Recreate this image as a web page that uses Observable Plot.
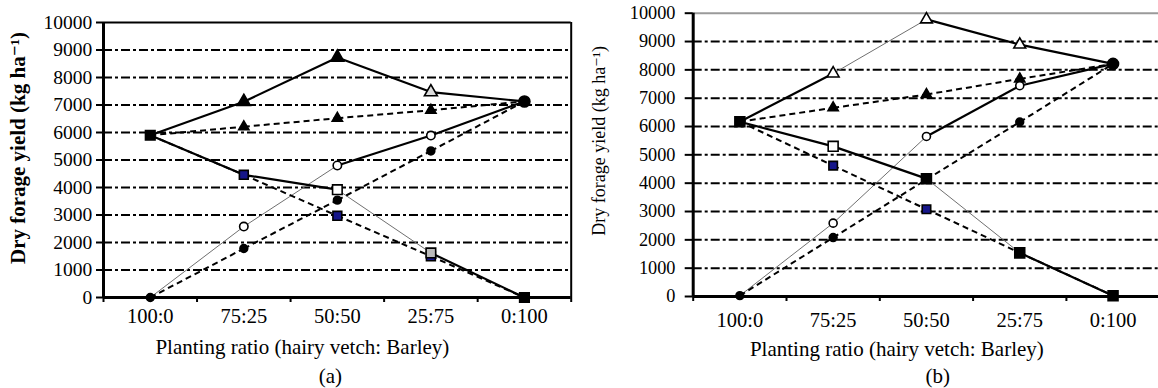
<!DOCTYPE html>
<html><head><meta charset="utf-8">
<script src="https://cdn.jsdelivr.net/npm/d3@7"></script>
<script src="https://cdn.jsdelivr.net/npm/@observablehq/plot@0.6"></script>
<style>
html,body{margin:0;padding:0;background:#fff;}
#wrap{display:flex;width:1158px;height:388px;overflow:hidden;}
#wrap svg{display:block;flex:none;}
#wrap svg, #wrap svg text{font-family:"Liberation Serif","Times New Roman","DejaVu Serif",serif !important;}
</style></head><body><div id="wrap"></div>
<script>
// ---------- data ----------
const ratios = ["100:0", "75:25", "50:50", "25:75", "0:100"];
const yTicks = [0, 1000, 2000, 3000, 4000, 5000, 6000, 7000, 8000, 9000, 10000];
const xTitle = "Planting ratio (hairy vetch: Barley)";
const yTitle = "Dry forage yield (kg ha\u207B\u00B9)";
const captions = ["(a)", "(b)"];

// Panel (a)
const totalA     = [5900, 7120, 8730, 7470, 7130];
const totalExpA  = [5900, 6210, 6520, 6810, 7130];
const vetchA     = [5900, 4460, 3920, 1620, 0];
const vetchExpA  = [5900, 4460, 2970, 1500, 0];
const barleyA    = [0, 2580, 4800, 5890, 7130];
const barleyExpA = [0, 1780, 3540, 5330, 7130];

// Panel (b)
const totalB     = [6170, 7870, 9780, 8890, 8210];
const totalExpB  = [6170, 6660, 7130, 7680, 8210];
const vetchB     = [6170, 5300, 4160, 1540, 30];
const vetchExpB  = [6170, 4620, 3080, 1540, 30];
const barleyB    = [30, 2590, 5650, 7440, 8210];
const barleyExpB = [30, 2080, 4130, 6160, 8210];

// ---------- styles ----------
const NAVY = "#16168a";
const serif = "'Liberation Serif', 'Times New Roman', 'DejaVu Serif', serif";

const seriesA = [
  {values: totalExpA,  segs: ["dash","dash","dash","dash"],  symbol: "triangle", r: 3.8, fill: [null,"#000","#000","#000",null]},
  {values: barleyExpA, segs: ["dash","dash","dash","dash"],  symbol: "circle",   r: 3.9, fill: ["#000","#000","#000","#000","#000"]},
  {values: vetchExpA,  segs: ["dash","dash","dash","dash"],  symbol: "square",   r: 5.0, fill: [null,NAVY,NAVY,NAVY,null]},
  {values: barleyA,    segs: ["thin","thin","thick","thick"], symbol: "circle",  r: 4.2, fill: [null,"#fff","#fff","#fff",null]},
  {values: vetchA,     segs: ["thick","thick","thin","thick"], symbol: "square", r: 5.4, fill: ["#000",null,"#fff","#bbb","#000"]},
  {values: totalA,     segs: ["thick","thick","thick","thick"], symbol: "triangle", r: 4.8, fill: [null,"#000","#000","#ddd",null]},
  {values: [null,null,null,null,barleyA[4]], segs: [null,null,null,null], symbol: "circle", r: 5.5, fill: [null,null,null,null,"#000"]}
];
const seriesB = [
  {values: totalExpB,  segs: ["dash","dash","dash","dash"],  symbol: "triangle", r: 3.8, fill: [null,"#000","#000","#000",null]},
  {values: barleyExpB, segs: ["dash","dash","dash","dash"],  symbol: "circle",   r: 3.9, fill: ["#000","#000","#000","#000","#000"]},
  {values: vetchExpB,  segs: ["dash","dash","dash","dash"],  symbol: "square",   r: 4.8, fill: [null,NAVY,NAVY,NAVY,null]},
  {values: barleyB,    segs: ["thin","thin","thick","thick"], symbol: "circle",  r: 4.0, fill: [null,"#fff","#fff","#fff",null]},
  {values: vetchB,     segs: ["thick","thick","thin","thick"], symbol: "square", r: 5.6, fill: ["#000","#fff","#000","#000","#000"]},
  {values: totalB,     segs: ["thick","thin","thick","thick"], symbol: "triangle", r: 4.4, fill: [null,"#fff","#fff","#fff",null]},
  {values: [null,null,null,null,barleyB[4]], segs: [null,null,null,null], symbol: "circle", r: 5.5, fill: [null,null,null,null,"#000"]}
];

const lineKinds = {
  thin:  {stroke: "#707070", strokeWidth: 1},
  dash:  {stroke: "#000", strokeWidth: 2, strokeDasharray: "6,4"},
  thick: {stroke: "#000", strokeWidth: 2.2}
};

function segmentsOf(series) {
  const out = [];
  for (const s of series)
    for (let i = 0; i < s.values.length - 1; i++)
      if (s.segs[i] && s.values[i] != null && s.values[i + 1] != null)
        out.push({x1: i, y1: s.values[i], x2: i + 1, y2: s.values[i + 1], kind: s.segs[i]});
  return out;
}
function dotMarks(series) {
  return series.map(s => {
    const pts = s.values.map((v, i) => ({x: i, y: v, fill: s.fill[i]})).filter(d => d.fill && d.y != null);
    return Plot.dot(pts, {x: "x", y: "y", symbol: s.symbol, r: s.r, fill: "fill", stroke: "#000", strokeWidth: 1.6});
  });
}

function panel(cfg) {
  const segs = segmentsOf(cfg.series);
  const grid = yTicks.filter(t => t > 0 && t < 10000);
  const bounds = [-0.5, 0.5, 1.5, 2.5, 3.5, 4.5];
  const xIdx = [0, 1, 2, 3, 4];
  return Plot.plot({
    width: cfg.width, height: 388,
    marginLeft: cfg.ml, marginRight: cfg.mr, marginTop: cfg.mt, marginBottom: cfg.mb,
    x: {domain: [-0.5, 4.5], range: cfg.xRange, axis: null},
    y: {domain: [0, 10000], axis: null},
    color: {type: "identity"},
    style: {fontFamily: serif, fontSize: "19px", color: "#000", background: "#fff", overflow: "visible"},
    marks: [
      Plot.ruleY(grid, {stroke: "#000", strokeWidth: 2, strokeDasharray: "9,3,3,3"}),
      Plot.ruleY([10000], {stroke: cfg.topColor, strokeWidth: 2}),
      cfg.rightBorder ? Plot.ruleX([4.5], {stroke: "#000", strokeWidth: 2}) : null,
      ...["thin", "dash", "thick"].map(k =>
        Plot.link(segs.filter(d => d.kind === k), {x1: "x1", y1: "y1", x2: "x2", y2: "y2", ...lineKinds[k]})),
      ...dotMarks(cfg.series),
      Plot.axisY({ticks: yTicks, tickFormat: d => String(d), tickSize: cfg.yTickSize, tickPadding: cfg.yTickPad,
                  fontSize: cfg.yFont, strokeWidth: 2, label: null}),
      Plot.ruleX([-0.5], {stroke: "#000", strokeWidth: 3}),
      Plot.ruleY([0], {stroke: "#000", strokeWidth: 3}),
      Plot.axisX({ticks: bounds, tickFormat: () => "", tickSize: 5, strokeWidth: 2, label: null}),
      Plot.axisX({ticks: xIdx, tickFormat: i => ratios[i], tickSize: 0, tickPadding: cfg.xTickPad,
                  fontSize: 20.5, label: null}),
      Plot.text([xTitle], {frameAnchor: "bottom", dx: cfg.xtDx, dy: cfg.xtDy, fontSize: 21, lineAnchor: "bottom"}),
      Plot.text([cfg.caption], {frameAnchor: "bottom", dx: cfg.capDx, dy: cfg.capDy, fontSize: 21, lineAnchor: "bottom"}),
      Plot.text([yTitle], {frameAnchor: "left", dx: cfg.ytDx, dy: cfg.ytDy, rotate: -90, fontSize: cfg.ytFont,
                           fontWeight: cfg.ytWeight, textAnchor: "middle", lineAnchor: "middle"})
    ]
  });
}

const wrap = document.getElementById("wrap");
wrap.append(panel({
  series: seriesA, width: 580, ml: 103, mr: 9.3, mt: 22, mb: 91, xRange: [103, 570.7],
  topColor: "#000", rightBorder: true, yTickSize: 7, yTickPad: 4.3, yFont: 19.5, xTickPad: 11.4,
  xtDx: -35, xtDy: 56, capDx: -7, capDy: 85, caption: captions[0],
  ytDx: -85, ytDy: -12, ytFont: 21, ytWeight: "bold"
}));
wrap.append(panel({
  series: seriesB, width: 578, ml: 112.7, mr: 0, mt: 12.7, mb: 92, xRange: [112.7, 579.2],
  topColor: "#9a9a9a", rightBorder: false, yTickSize: 8, yTickPad: 9.7, yFont: 18.3, xTickPad: 16.4,
  xtDx: -29, xtDy: 59, capDx: 12, capDy: 86, caption: captions[1],
  ytDx: -94, ytDy: -14, ytFont: 18, ytWeight: "normal"
}));
</script></body></html>
